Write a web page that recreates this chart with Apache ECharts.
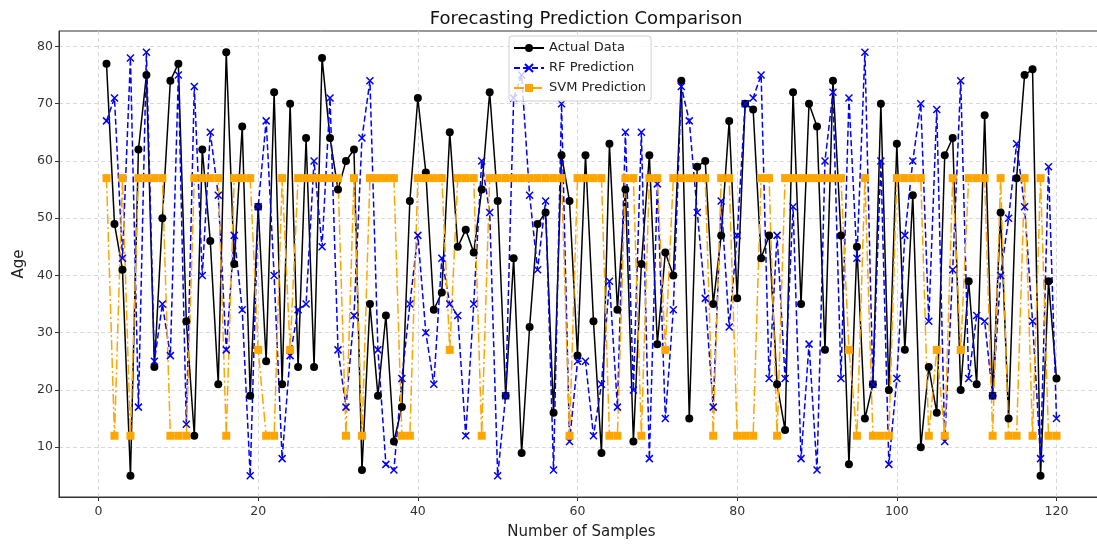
<!DOCTYPE html>
<html>
<head>
<meta charset="utf-8">
<title>Forecasting Prediction Comparison</title>
<script src="https://cdn.jsdelivr.net/npm/echarts@6/dist/echarts.min.js"></script>
<style>
    html, body { margin: 0; padding: 0; background: #fff; overflow: hidden; }
    /* the plot frame runs a few pixels past the right edge of the window, as in the source */
    #chart { width: 1104px; height: 545px; }
</style>
</head>
<body>
<div id="chart"></div>
<script>
// Values (sample 1..120)
const actualData = [
    77, 49, 41, 5, 62, 75, 24, 50, 74, 77, 32, 12, 62, 46, 21, 79,
    42, 66, 19, 52, 25, 72, 21, 70, 24, 64, 24, 78, 64, 55, 60, 62,
    6, 35, 19, 33, 11, 17, 53, 71, 58, 34, 37, 65, 45, 48, 44, 55,
    72, 53, 19, 43, 9, 31, 49, 51, 16, 61, 53, 26, 61, 32, 9, 63,
    34, 55, 11, 42, 61, 28, 44, 40, 74, 15, 59, 60, 35, 47, 67, 36,
    70, 69, 43, 47, 21, 13, 72, 35, 70, 66, 27, 74, 47, 7, 45, 15,
    21, 70, 20, 63, 27, 54, 10, 24, 16, 61, 64, 20, 39, 21, 68, 19,
    51, 15, 57, 75, 76, 5, 39, 22
];
const rfPrediction = [
    67, 71, 43, 78, 17, 79, 25, 35, 26, 75, 14, 73, 40, 65, 54, 27,
    47, 34, 5, 52, 67, 40, 8, 26, 34, 35, 60, 45, 71, 27, 17, 33,
    64, 74, 27, 7, 6, 22, 35, 47, 30, 21, 43, 35, 33, 12, 35, 60,
    51, 5, 19, 71, 75, 54, 41, 53, 6, 70, 11, 25, 25, 12, 21, 39,
    17, 65, 20, 65, 8, 56, 15, 34, 73, 67, 51, 36, 17, 53, 31, 47,
    70, 71, 75, 22, 47, 22, 52, 8, 28, 6, 60, 72, 22, 71, 43, 79,
    21, 60, 7, 22, 47, 60, 70, 32, 69, 11, 41, 74, 22, 33, 32, 19,
    40, 50, 63, 52, 32, 8, 59, 15
];
const svmPrediction = [
    57, 12, 57, 12, 57, 57, 57, 57, 12, 12, 12, 57, 57, 57, 57, 12,
    57, 57, 57, 27, 12, 12, 57, 27, 57, 57, 57, 57, 57, 57, 12, 57,
    12, 57, 57, 57, 57, 12, 12, 57, 57, 57, 57, 27, 57, 57, 57, 12,
    57, 57, 57, 57, 57, 57, 57, 57, 57, 57, 12, 57, 57, 57, 57, 12,
    12, 57, 57, 12, 57, 57, 27, 57, 57, 57, 57, 57, 12, 57, 57, 12,
    12, 12, 57, 57, 12, 57, 57, 57, 57, 57, 57, 57, 57, 27, 12, 57,
    12, 12, 12, 57, 57, 57, 57, 12, 27, 12, 57, 27, 57, 57, 57, 12,
    57, 12, 12, 57, 12, 57, 12, 12
];
const xTicks = [0, 20, 40, 60, 80, 100, 120];
const yTicks = [10, 20, 30, 40, 50, 60, 70, 80];

// pair each value with its sample number (1-based)
function toPoints(values) {
    return values.map((v, i) => [i + 1, v]);
}

const chart = echarts.init(document.getElementById('chart'));
const fontFamily = '"DejaVu Sans", sans-serif';
const gridLine = { show: true, lineStyle: { color: '#cfcfcf', type: [4, 3], width: 0.8 } };

const option = {
    animation: false,
    backgroundColor: '#fff',
    textStyle: { fontFamily: fontFamily },
    title: {
        text: 'Forecasting Prediction Comparison',
        left: 581,
        textAlign: 'center',
        top: 5,
        textStyle: { fontFamily: fontFamily, fontSize: 18, fontWeight: 'normal', color: '#111' }
    },
    legend: {
        orient: 'vertical',
        left: 509,
        top: 36,
        padding: [5, 5, 6, 4],
        itemGap: 6,
        itemWidth: 30,
        itemHeight: 10,
        backgroundColor: 'rgba(255,255,255,0.8)',
        borderColor: '#d0d0d0',
        borderWidth: 1,
        borderRadius: 3,
        textStyle: { fontFamily: fontFamily, fontSize: 13, color: '#222', lineHeight: 14 },
        data: ['Actual Data', 'RF Prediction', 'SVM Prediction']
    },
    grid: {
        left: 59,
        top: 31,
        right: 0,
        bottom: 48,
        show: true,
        borderColor: '#333',
        borderWidth: 1
    },
    xAxis: {
        type: 'value',
        min: -4.95,
        max: 125.95,
        name: 'Number of Samples',
        nameLocation: 'middle',
        nameGap: 28,
        nameTextStyle: { fontFamily: fontFamily, fontSize: 15, color: '#222' },
        axisLine: { show: true, onZero: false, lineStyle: { color: '#333' } },
        axisTick: { show: true, length: 4, customValues: xTicks, lineStyle: { color: '#333' } },
        axisLabel: { customValues: xTicks, fontSize: 12.5, color: '#333', margin: 8 },
        splitLine: gridLine
    },
    yAxis: {
        type: 'value',
        min: 1.3,
        max: 82.7,
        name: 'Age',
        nameLocation: 'middle',
        nameGap: 32,
        nameTextStyle: { fontFamily: fontFamily, fontSize: 15, color: '#222' },
        axisLine: { show: true, onZero: false, lineStyle: { color: '#333' } },
        axisTick: { show: true, length: 4, customValues: yTicks, lineStyle: { color: '#333' } },
        axisLabel: { customValues: yTicks, fontSize: 12.5, color: '#333', margin: 6 },
        splitLine: gridLine
    },
    series: [
        {
            name: 'Actual Data',
            type: 'line',
            data: toPoints(actualData),
            symbol: 'circle',
            symbolSize: 8,
            color: '#000',
            lineStyle: { color: '#000', width: 1.5 },
            itemStyle: { color: '#000' }
        },
        {
            name: 'RF Prediction',
            type: 'line',
            data: toPoints(rfPrediction),
            symbol: 'path://M0,0L10,10M10,0L0,10',
            symbolSize: 7,
            color: '#0000ff',
            lineStyle: { color: '#0000ff', width: 1.5, type: [6, 3] },
            itemStyle: { color: '#0000ff', borderColor: '#0000ff', borderWidth: 1.5 }
        },
        {
            name: 'SVM Prediction',
            type: 'line',
            data: toPoints(svmPrediction),
            symbol: 'rect',
            symbolSize: 8,
            color: '#ffa500',
            lineStyle: { color: '#ffa500', width: 1.5, type: [10, 3, 2, 3] },
            itemStyle: { color: '#ffa500' }
        }
    ]
};

chart.setOption(option);
</script>
</body>
</html>
